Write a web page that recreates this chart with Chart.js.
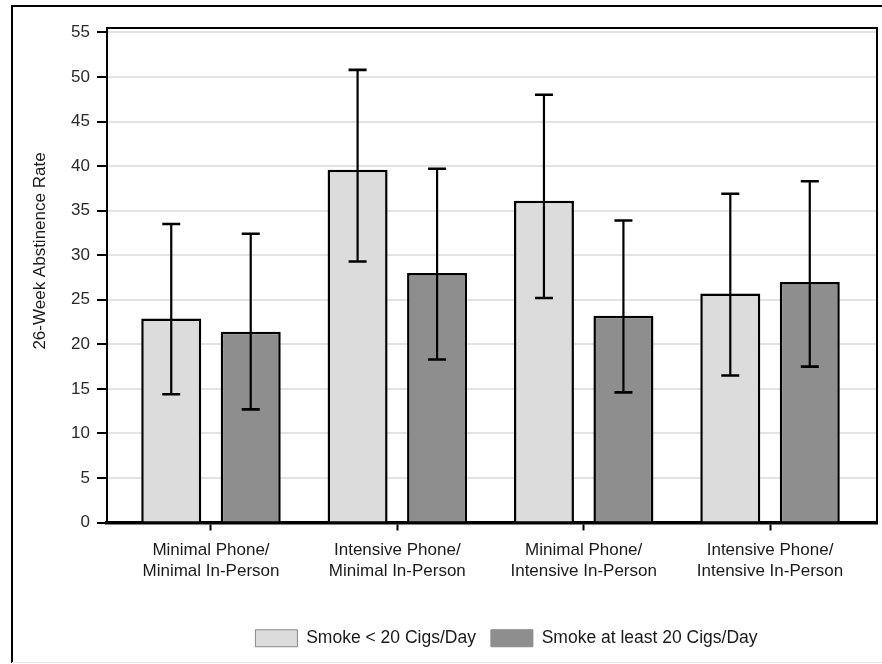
<!DOCTYPE html>
<html>
<head>
<meta charset="utf-8">
<script src="https://cdn.jsdelivr.net/npm/chart.js@4/dist/chart.umd.min.js"></script>
<style>
  html, body { margin: 0; padding: 0; background: #fff; }
  #wrap { width: 882px; height: 664px; }
</style>
</head>
<body>
<div id="wrap"><canvas id="myChart" width="882" height="664"></canvas></div>
<script>
const categories = [
  ["Minimal Phone/", "Minimal In-Person"],
  ["Intensive Phone/", "Minimal In-Person"],
  ["Minimal Phone/", "Intensive In-Person"],
  ["Intensive Phone/", "Intensive In-Person"]
];
const seriesNames = ["Smoke < 20 Cigs/Day", "Smoke at least 20 Cigs/Day"];
const lightRate = [22.9, 39.6, 36.1, 25.7];
const lightLow = [14.4, 29.3, 25.2, 16.5];
const lightHigh = [33.5, 50.8, 48.0, 36.9];
const heavyRate = [21.4, 28.0, 23.2, 27.0];
const heavyLow = [12.7, 18.3, 14.6, 17.5];
const heavyHigh = [32.4, 39.7, 33.9, 38.3];
const yTicks = [0, 5, 10, 15, 20, 25, 30, 35, 40, 45, 50, 55];
const yTitle = "26-Week Abstinence Rate";

const FONT = "'Liberation Sans', Arial, sans-serif";

const errorBars = [
  { low: lightLow, high: lightHigh },
  { low: heavyLow, high: heavyHigh }
];

// white page, outer frame, plot box, y title
const framePlugin = {
  id: "frame",
  beforeDraw(chart) {
    const ctx = chart.ctx;
    ctx.save();
    ctx.fillStyle = "#fff";
    ctx.fillRect(0, 0, chart.width, chart.height);
    ctx.strokeStyle = "#000";
    ctx.lineWidth = 2;
    ctx.beginPath();
    ctx.moveTo(12, 663);
    ctx.lineTo(12, 6);
    ctx.lineTo(882, 6);
    ctx.stroke();
    ctx.strokeStyle = "#e6e6e6";
    ctx.lineWidth = 1;
    ctx.beginPath();
    ctx.moveTo(12, 662.5);
    ctx.lineTo(882, 662.5);
    ctx.stroke();
    // axis title sits a bit above the middle of the axis in the original
    ctx.translate(40, 251);
    ctx.rotate(-Math.PI / 2);
    ctx.fillStyle = "#1a1a1a";
    ctx.font = "17px " + FONT;
    ctx.textAlign = "center";
    ctx.textBaseline = "middle";
    ctx.fillText(yTitle, 0, 0);
    ctx.restore();
  },
  afterLayout(chart) {
    const lg = chart.legend;
    if (lg) {
      lg.left += 68;
      lg.right += 68;
      lg.top -= 3;
      lg.bottom -= 3;
    }
  },
  beforeDatasetsDraw(chart) {
    const { ctx, chartArea: a } = chart;
    ctx.save();
    ctx.strokeStyle = "#000";
    ctx.lineWidth = 2;
    ctx.beginPath();
    ctx.moveTo(a.left, a.top);
    ctx.lineTo(a.right, a.top);
    ctx.lineTo(a.right, a.bottom);
    ctx.stroke();
    ctx.restore();
  }
};

const errorBarPlugin = {
  id: "errorBars",
  afterDatasetsDraw(chart) {
    const ctx = chart.ctx;
    const y = chart.scales.y;
    ctx.save();
    ctx.strokeStyle = "#000";
    errorBars.forEach((eb, i) => {
      const meta = chart.getDatasetMeta(i);
      meta.data.forEach((bar, j) => {
        const top = y.getPixelForValue(eb.high[j]);
        const bot = y.getPixelForValue(eb.low[j]);
        ctx.lineWidth = 2.2;
        ctx.beginPath();
        ctx.moveTo(bar.x, top);
        ctx.lineTo(bar.x, bot);
        ctx.stroke();
        ctx.lineWidth = 2.6;
        ctx.beginPath();
        ctx.moveTo(bar.x - 9, top);
        ctx.lineTo(bar.x + 9, top);
        ctx.moveTo(bar.x - 9, bot);
        ctx.lineTo(bar.x + 9, bot);
        ctx.stroke();
      });
    });
    ctx.restore();
  }
};

const ctx = document.getElementById("myChart").getContext("2d");
const myChart = new Chart(ctx, {
  type: "bar",
  data: {
    datasets: [
      {
        label: seriesNames[0],
        data: lightRate.map((v, i) => ({ x: i, y: v })),
        backgroundColor: "#dcdcdc",
        borderColor: "#000",
        borderWidth: 2.5
      },
      {
        label: seriesNames[1],
        data: heavyRate.map((v, i) => ({ x: i, y: v })),
        backgroundColor: "#8e8e8e",
        borderColor: "#000",
        borderWidth: 2.5
      }
    ]
  },
  options: {
    responsive: false,
    animation: false,
    devicePixelRatio: 1,
    categoryPercentage: 0.853,
    barPercentage: 0.755,
    layout: { padding: { left: 0, top: 28, right: 5, bottom: 4 } },
    plugins: {
      tooltip: { enabled: false },
      legend: {
        position: "bottom",
        labels: {
          boxWidth: 42,
          boxHeight: 17,
          padding: 15,
          color: "#1a1a1a",
          font: { family: FONT, size: 17.5 },
          generateLabels(chart) {
            return Chart.defaults.plugins.legend.labels.generateLabels(chart).map(l => {
              l.strokeStyle = "#8a8a8a";
              l.lineWidth = 1;
              return l;
            });
          }
        }
      }
    },
    scales: {
      x: {
        type: "linear",
        offset: false,
        min: -0.558,
        max: 3.574,
        afterBuildTicks(scale) {
          scale.ticks = categories.map((c, i) => ({ value: i }));
        },
        afterFit(scale) {
          scale.height = 95;
        },
        ticks: {
          autoSkip: false,
          maxRotation: 0,
          padding: 9,
          color: "#1a1a1a",
          font: { family: FONT, size: 17, lineHeight: 1.235 },
          callback: (v) => categories[v]
        },
        grid: {
          offset: false,
          drawOnChartArea: false,
          drawTicks: true,
          tickLength: 8,
          tickWidth: 2,
          tickColor: "#000"
        },
        border: { display: true, color: "#000", width: 3.5 }
      },
      y: {
        min: 0,
        max: 55.5,
        afterBuildTicks(scale) {
          scale.ticks = yTicks.map(v => ({ value: v }));
        },
        afterFit(scale) {
          scale.width = 107;
        },
        ticks: {
          padding: 7,
          color: "#2a2a2a",
          font: { family: FONT, size: 17 }
        },
        grid: {
          color: "#e3e3e3",
          lineWidth: 2,
          tickLength: 10,
          tickWidth: 2,
          tickColor: "#000"
        },
        border: { display: true, color: "#000", width: 2 }
      }
    }
  },
  plugins: [framePlugin, errorBarPlugin]
});
</script>
</body>
</html>
